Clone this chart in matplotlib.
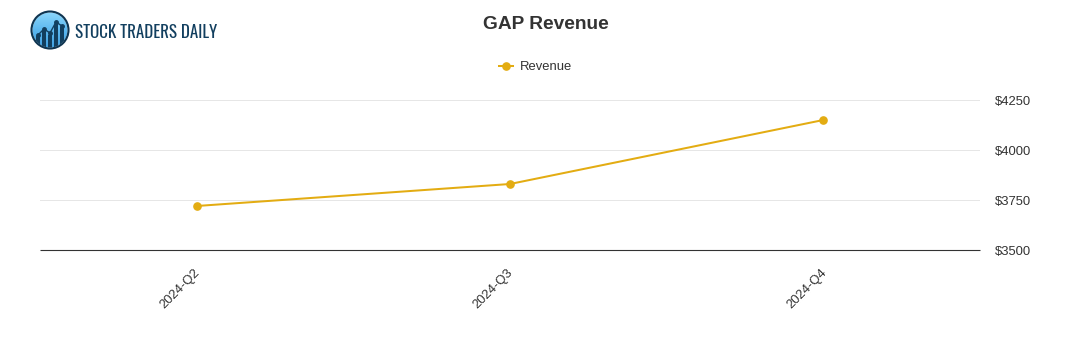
import matplotlib
matplotlib.use('Agg')
import matplotlib.pyplot as plt
import numpy as np
from matplotlib.patches import Circle
from matplotlib.transforms import ScaledTranslation

quarters = ['2024-Q2', '2024-Q3', '2024-Q4']
revenue = [3720, 3830, 4150]
y_ticks = [3500, 3750, 4000, 4250]

# logo sketch values, in logo pixels
logo_bars_x = [38, 44, 50, 56, 62]
logo_bars_top = [36, 31, 35, 24, 27]
logo_line_y = [35, 29, 33, 22, 26]

W, H = 1091, 350
color = '#e3ac12'

plt.rcParams['font.family'] = ['Liberation Sans', 'DejaVu Sans']

fig = plt.figure(figsize=(W / 100, H / 100), dpi=100)
ax = fig.add_axes([40 / W, 1 - 250 / H, 940 / W, 150 / H])

x = list(range(len(quarters)))
line, = ax.plot(x, revenue, color=color, lw=1.45, marker='o', ms=5.2, label='Revenue', clip_on=False, zorder=3)

ax.set_xlim(-0.5, 2.5)
ax.set_ylim(3500, 4250)
ax.set_yticks(y_ticks)
ax.set_yticklabels(['$' + str(v) for v in y_ticks])
ax.yaxis.tick_right()
ax.set_xticks(x)
ax.set_xticklabels(quarters, rotation=45, ha='right', va='top', rotation_mode='anchor')
ax.tick_params(axis='y', length=0, pad=10.7, labelsize=9.4, labelcolor='#333333')
ax.tick_params(axis='x', length=0, pad=11.8, labelsize=9.4, labelcolor='#333333')
for lab in ax.get_xticklabels():
    lab.set_transform(lab.get_transform() + ScaledTranslation(-3 / 100, 0, fig.dpi_scale_trans))
for lab in ax.get_yticklabels():
    lab.set_transform(lab.get_transform() + ScaledTranslation(0, -0.6 / 100, fig.dpi_scale_trans))
ax.grid(axis='y', color='#e6e6e6', lw=0.72)
ax.set_axisbelow(True)
for s in ['top', 'left', 'right']:
    ax.spines[s].set_visible(False)
ax.spines['bottom'].set_color('#333333')
ax.spines['bottom'].set_linewidth(0.8)
ax.spines['bottom'].set_capstyle('butt')

fig.text(546 / W, 1 - 24.5 / H, 'GAP Revenue', ha='center', va='center', fontsize=13.8, fontweight='bold', color='#333333')
fig.legend(handles=[line], loc='center', bbox_to_anchor=(535.5 / W, 1 - 67 / H), frameon=False,
           fontsize=9.4, labelcolor='#333333', handlelength=1.1, handletextpad=0.5)

# logo
lax = fig.add_axes([0, 0, 1, 1], zorder=5)
lax.set_xlim(0, W)
lax.set_ylim(H, 0)
lax.axis('off')
grad = np.linspace(0, 1, 64).reshape(-1, 1)
cmap = matplotlib.colors.LinearSegmentedColormap.from_list('logo', ['#8fd8fb', '#5cb8f0', '#3f9fe0'])
im = lax.imshow(grad, extent=(31, 69, 49, 11), cmap=cmap, aspect='auto', zorder=1)
clip = Circle((50, 30), 17.5, transform=lax.transData)
im.set_clip_path(clip)
lax.set_xlim(0, W)
lax.set_ylim(H, 0)
for bx, top in zip(logo_bars_x, logo_bars_top):
    b = lax.bar(bx, 50 - top, width=4.2, bottom=top, color='#123f5f', zorder=2)
    b[0].set_clip_path(clip)
lax.plot(logo_bars_x, logo_line_y, color='#123f5f', lw=1.0, marker='o', ms=2.5, zorder=3)
lax.add_patch(Circle((50, 30), 18.5, fill=False, ec='#0e3450', lw=1.5, zorder=4))
lax.text(75, 33, 'STOCK TRADERS DAILY', family=['Oswald', 'Archivo Narrow', 'Asap Condensed'], fontsize=12.2,
         color='#123f5f', ha='left', va='center')

fig.savefig('out.png', dpi=100)
